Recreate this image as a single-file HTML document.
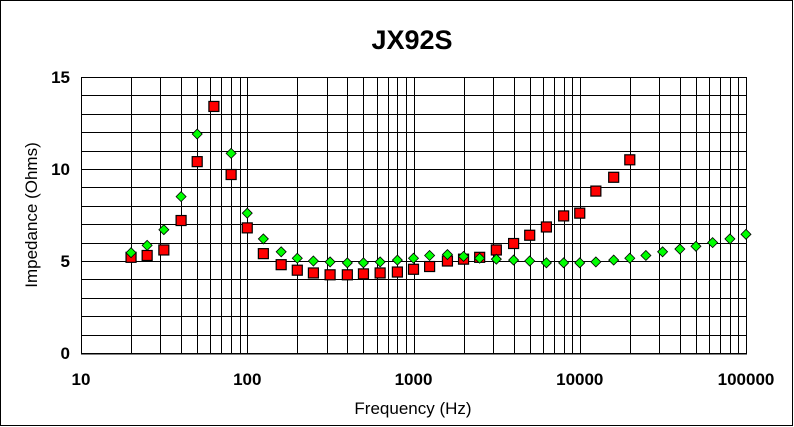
<!DOCTYPE html>
<html><head><meta charset="utf-8"><style>
body{margin:0;background:#fff}
svg{display:block;font-family:"Liberation Sans",Arial,sans-serif}
</style></head><body>
<svg width="794" height="427">
<rect x="0.5" y="0.5" width="792" height="425" fill="#fff" stroke="#000"/>
<text x="412" y="49" text-anchor="middle" font-size="27" font-weight="bold">JX92S</text>
<g id="grid" shape-rendering="crispEdges"></g>
<g id="ticks"></g>
<g id="marks"></g>
<text x="413" y="414" text-anchor="middle" font-size="17">Frequency (Hz)</text>
<text transform="translate(37,215) rotate(-90)" text-anchor="middle" font-size="17">Impedance (Ohms)</text>
</svg>
<script>
const freqs=[20,25,31.5,40,50,63,80,100,125,160,200,250,315,400,500,630,800,1000,1250,1600,2000,2500,3150,4000,5000,6300,8000,10000,12500,16000,20000,25000,31500,40000,50000,63000,80000,100000];
const redValues=[5.2,5.3,5.6,7.2,10.4,13.4,9.7,6.8,5.4,4.8,4.5,4.35,4.25,4.25,4.3,4.35,4.4,4.55,4.7,5.0,5.1,5.2,5.6,5.95,6.4,6.85,7.45,7.6,8.8,9.55,10.5];
const greenValues=[5.45,5.85,6.7,8.5,11.9,null,10.85,7.6,6.2,5.5,5.15,5.0,4.95,4.9,4.9,4.95,5.05,5.15,5.3,5.35,5.25,5.15,5.1,5.05,5.0,4.9,4.9,4.9,4.95,5.05,5.15,5.3,5.5,5.65,5.8,6.0,6.2,6.45];
const yTicks=[0,5,10,15];
const xTicks=[10,100,1000,10000,100000];
const X0=81,X1=746,Y0=353,Y1=77;
const xs=f=>X0+(Math.log10(f)-1)/4*(X1-X0);
const ys=v=>Y0-v/15*(Y0-Y1);
const NS='http://www.w3.org/2000/svg';
function mk(t,a,p){const e=document.createElementNS(NS,t);for(const k in a)e.setAttribute(k,a[k]);p.appendChild(e);return e;}
const grid=document.getElementById('grid'),ticks=document.getElementById('ticks'),marks=document.getElementById('marks');
for(let v=0;v<=15;v++){const y=Math.round(ys(v))+0.5;const l=mk('line',{x1:X0,x2:X1,y1:y,y2:y,stroke:'#000','stroke-width':1},grid);

}
for(let d=10;d<100000;d*=10)for(let m=1;m<=10;m++){const x=Math.round(xs(d*m))+0.5;const l=mk('line',{x1:x,x2:x,y1:Y1,y2:Y0,stroke:'#000','stroke-width':1},grid);

}
mk('rect',{x:X0+0.5,y:Y1+0.5,width:X1-X0,height:Y0-Y1,fill:'none',stroke:'#000','stroke-width':1},grid);
mk('line',{x1:X0,x2:X1+1,y1:Y0+1.5,y2:Y0+1.5,stroke:'#808080','stroke-width':1},grid);
yTicks.forEach(v=>{const t=mk('text',{x:70,y:ys(v)+6,'text-anchor':'end','font-size':17,'font-weight':'bold'},ticks);t.textContent=v;

});
xTicks.forEach(f=>{const t=mk('text',{x:xs(f),y:385,'text-anchor':'middle','font-size':17,'font-weight':'bold'},ticks);t.textContent=f;

});
redValues.forEach((v,i)=>{if(v==null)return;const x=xs(freqs[i]),y=ys(v);
const r=mk('rect',{x:x-5,y:y-5,width:10,height:10,fill:'#ff0000',stroke:'#000','stroke-width':1.2},marks);

});
greenValues.forEach((v,i)=>{if(v==null)return;const x=xs(freqs[i]),y=ys(v);
const p=mk('polygon',{points:`${x},${y-5} ${x+5},${y} ${x},${y+5} ${x-5},${y}`,fill:'#00ff00',stroke:'#000','stroke-width':0.8},marks);

});
</script>
</body></html>
